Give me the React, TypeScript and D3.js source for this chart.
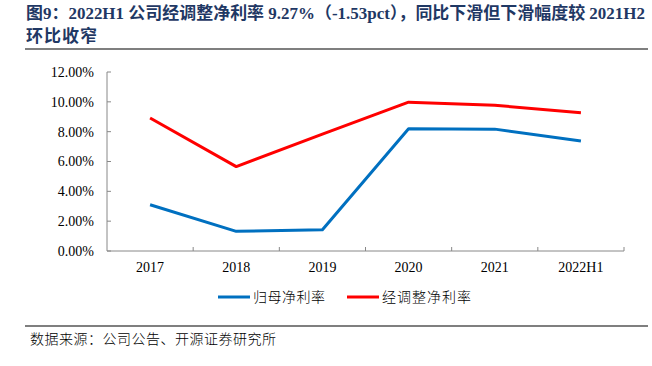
import React from "react";
import * as d3 from "d3";

const categories = ["2017", "2018", "2019", "2020", "2021", "2022H1"];
const parentMargin = [3.1, 1.32, 1.42, 8.2, 8.17, 7.37];
const adjustedMargin = [8.92, 5.66, 7.83, 9.98, 9.77, 9.27];
const yTicks = [0, 2, 4, 6, 8, 10, 12];
const seriesNames = ["归母净利率", "经调整净利率"];
const seriesColors = ["#0070C0", "#FF0000"];
const titleLine1 = "图9：2022H1 公司经调整净利率 9.27%（-1.53pct），同比下滑但下滑幅度较 2021H2";
const titleLine2 = "环比收窄";
const sourceText = "数据来源：公司公告、开源证券研究所";

const W = 652;
const H = 366;
const plot = { left: 107, right: 624, top: 72, bottom: 251 };

export default function App() {
  const x = d3.scaleBand<string>().domain(categories).range([plot.left, plot.right]);
  const y = d3.scaleLinear().domain([0, 12]).range([plot.bottom, plot.top]);
  const line = d3
    .line<number>()
    .x((_, i) => (x(categories[i]) as number) + x.bandwidth() / 2)
    .y((d) => y(d));
  const serifFont = "'Liberation Serif', 'Times New Roman', 'Noto Sans CJK SC', serif";
  const cjkFont = "'Noto Sans CJK SC', sans-serif";
  const axisColor = "#888888";
  const series = [parentMargin, adjustedMargin];
  const legendItems = [
    { x: 218, name: seriesNames[0], color: seriesColors[0], len: 72 },
    { x: 347, name: seriesNames[1], color: seriesColors[1], len: 89 },
  ];
  return (
    <svg
      width={W}
      height={H}
      style={{ position: "absolute", left: 0, top: 0, background: "#fff" }}
    >
      <text
        x={26}
        y={19}
        fontFamily={serifFont}
        fontWeight="bold"
        fontSize={16.5}
        fill="#1F3864"
        textLength={619}
        lengthAdjust="spacingAndGlyphs"
      >
        {titleLine1}
      </text>
      <text
        x={26}
        y={42}
        fontFamily={serifFont}
        fontWeight="bold"
        fontSize={17}
        fill="#1F3864"
        textLength={71}
        lengthAdjust="spacing"
      >
        {titleLine2}
      </text>
      <line x1={25} x2={648} y1={49} y2={49} stroke="#555" strokeWidth={1.5} />

      {/* y axis */}
      <line x1={plot.left} x2={plot.left} y1={plot.top} y2={plot.bottom} stroke={axisColor} />
      {yTicks.map((t) => (
        <g key={t}>
          <line x1={plot.left} x2={plot.left + 4} y1={y(t)} y2={y(t)} stroke={axisColor} />
          <text
            x={94}
            y={y(t)}
            dy="0.35em"
            textAnchor="end"
            fontFamily={serifFont}
            fontSize={14}
            fill="#000"
          >
            {t.toFixed(2) + "%"}
          </text>
        </g>
      ))}
      {/* x axis */}
      <line x1={plot.left} x2={plot.right} y1={plot.bottom} y2={plot.bottom} stroke={axisColor} />
      {categories.map((c) => (
        <g key={c}>
          <line
            x1={(x(c) as number) + x.bandwidth()}
            x2={(x(c) as number) + x.bandwidth()}
            y1={plot.bottom}
            y2={plot.bottom - 4}
            stroke={axisColor}
          />
          <text
            x={(x(c) as number) + x.bandwidth() / 2}
            y={267}
            dy="0.35em"
            textAnchor="middle"
            fontFamily={serifFont}
            fontSize={14}
            fill="#000"
          >
            {c}
          </text>
        </g>
      ))}
      {series.map((s, i) => (
        <path
          key={i}
          d={line(s) as string}
          fill="none"
          stroke={seriesColors[i]}
          strokeWidth={3}
          strokeLinejoin="round"
        />
      ))}
      {/* legend */}
      {legendItems.map((it) => (
        <g key={it.name}>
          <line x1={it.x} x2={it.x + 32} y1={297} y2={297} stroke={it.color} strokeWidth={3} />
          <text
            x={it.x + 35}
            y={297}
            dy="0.35em"
            fontFamily={cjkFont}
            fontSize={14}
            fontWeight={300}
            fill="#000"
            textLength={it.len}
            lengthAdjust="spacing"
          >
            {it.name}
          </text>
        </g>
      ))}
      <line x1={25} x2={648} y1={326} y2={326} stroke="#555" strokeWidth={1.5} />
      <text
        x={30}
        y={339}
        dy="0.35em"
        fontFamily={cjkFont}
        fontSize={14}
        fontWeight={300}
        fill="#000"
        textLength={246}
        lengthAdjust="spacing"
      >
        {sourceText}
      </text>
    </svg>
  );
}
